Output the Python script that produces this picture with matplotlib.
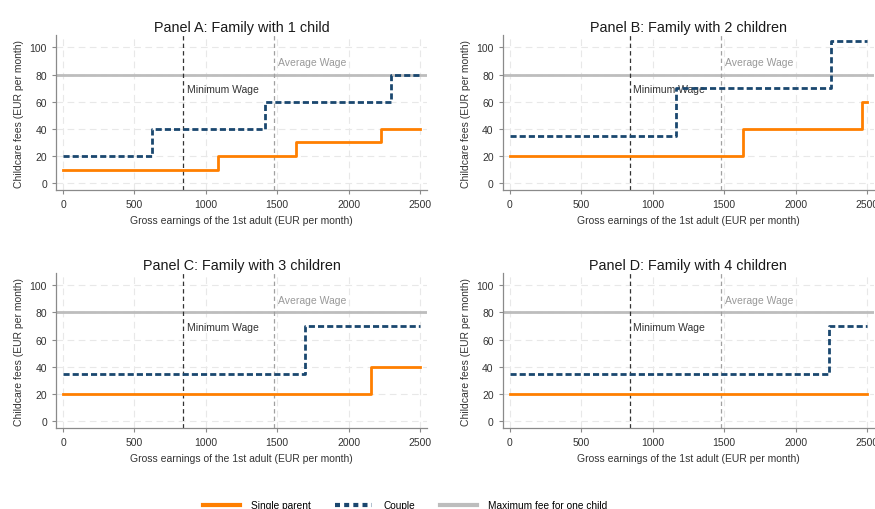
import matplotlib
matplotlib.use("Agg")
import matplotlib.pyplot as plt
from matplotlib.lines import Line2D

plt.rcParams['font.family'] = ['Liberation Sans', 'DejaVu Sans']

# Monthly childcare fees by gross earnings of the first adult
panel_titles = [
    "Panel A: Family with 1 child",
    "Panel B: Family with 2 children",
    "Panel C: Family with 3 children",
    "Panel D: Family with 4 children",
]

single_x = [
    [0, 1087, 1635, 2225, 2500],
    [0, 1633, 2462, 2500],
    [0, 2155, 2500],
    [0, 2500],
]
single_fee = [
    [10, 20, 30, 40, 40],
    [20, 40, 60, 60],
    [20, 40, 40],
    [20, 20],
]
couple_x = [
    [0, 620, 1418, 2295, 2500],
    [0, 1165, 2248, 2500],
    [0, 1693, 2500],
    [0, 2232, 2500],
]
couple_fee = [
    [20, 40, 60, 80, 80],
    [35, 70, 105, 105],
    [35, 70, 70],
    [35, 70, 70],
]
max_fee_one_child = 80
minimum_wage = 840
average_wage = 1478

x_ticks = [0, 500, 1000, 1500, 2000, 2500]
y_ticks = [0, 20, 40, 60, 80, 100]

orange = "#ff7f00"
navy = "#1a476f"
grey = "#bdbdbd"

fig = plt.figure(figsize=(8.75, 5.10), dpi=100)

positions = [
    (0.064, 0.6255, 0.424, 0.3035),
    (0.5745, 0.6255, 0.4245, 0.3035),
    (0.064, 0.1588, 0.424, 0.3039),
    (0.5745, 0.1588, 0.4245, 0.3039),
]

for i, pos in enumerate(positions):
    ax = fig.add_axes(pos)
    ax.set_xlim(-50, 2550)
    ax.set_ylim(-5, 109)
    ax.set_xticks(x_ticks)
    ax.set_yticks(y_ticks)
    ax.grid(True, color="#e8e8e8", linestyle=(0, (6, 4)), linewidth=0.8)
    ax.set_axisbelow(True)
    for s in ("top", "right"):
        ax.spines[s].set_visible(False)
    for s in ("left", "bottom"):
        ax.spines[s].set_color("#8a8a8a")
        ax.spines[s].set_linewidth(0.9)
    ax.tick_params(axis="both", labelsize=7.5, colors="#8a8a8a",
                   labelcolor="#333333", length=3, width=0.8)

    ax.axhline(max_fee_one_child, color=grey, linewidth=2.0, zorder=2)
    ax.axvline(minimum_wage, color="#333333", linewidth=0.9,
               linestyle=(0, (3.5, 2.5)), zorder=2)
    ax.axvline(average_wage, color="#a0a0a0", linewidth=0.9,
               linestyle=(0, (3.5, 2.5)), zorder=2)
    ax.text(average_wage + 25, 89.5, "Average Wage", color="#999999",
            fontsize=7.5, va="center", ha="left")
    ax.text(minimum_wage + 25, 69.5, "Minimum Wage", color="#333333",
            fontsize=7.5, va="center", ha="left")

    ax.step(single_x[i], single_fee[i], where="post", color=orange,
            linewidth=2.0, zorder=3)
    ax.step(couple_x[i], couple_fee[i], where="post", color=navy,
            linewidth=2.0, linestyle=(0, (2.2, 1.1)), zorder=4)

    ax.set_title(panel_titles[i], fontsize=10.4, color="#1a1a1a", pad=3)
    ax.set_xlabel("Gross earnings of the 1st adult (EUR per month)",
                  fontsize=7.5, color="#333333", labelpad=4)
    ax.set_ylabel("Childcare fees (EUR per month)", fontsize=7.5,
                  color="#333333", labelpad=4)

handles = [
    Line2D([], [], color=orange, linewidth=3),
    Line2D([], [], color=navy, linewidth=3, linestyle=(0, (1.2, 1.0))),
    Line2D([], [], color=grey, linewidth=3),
]
labels = ["Single parent", "Couple", "Maximum fee for one child"]
fig.legend(handles, labels, loc="center", bbox_to_anchor=(0.463, 0.007),
           ncol=3, frameon=False, fontsize=7.3, handlelength=3.65,
           columnspacing=2.4, handletextpad=1.1)

fig.savefig("out.png", dpi=100)
